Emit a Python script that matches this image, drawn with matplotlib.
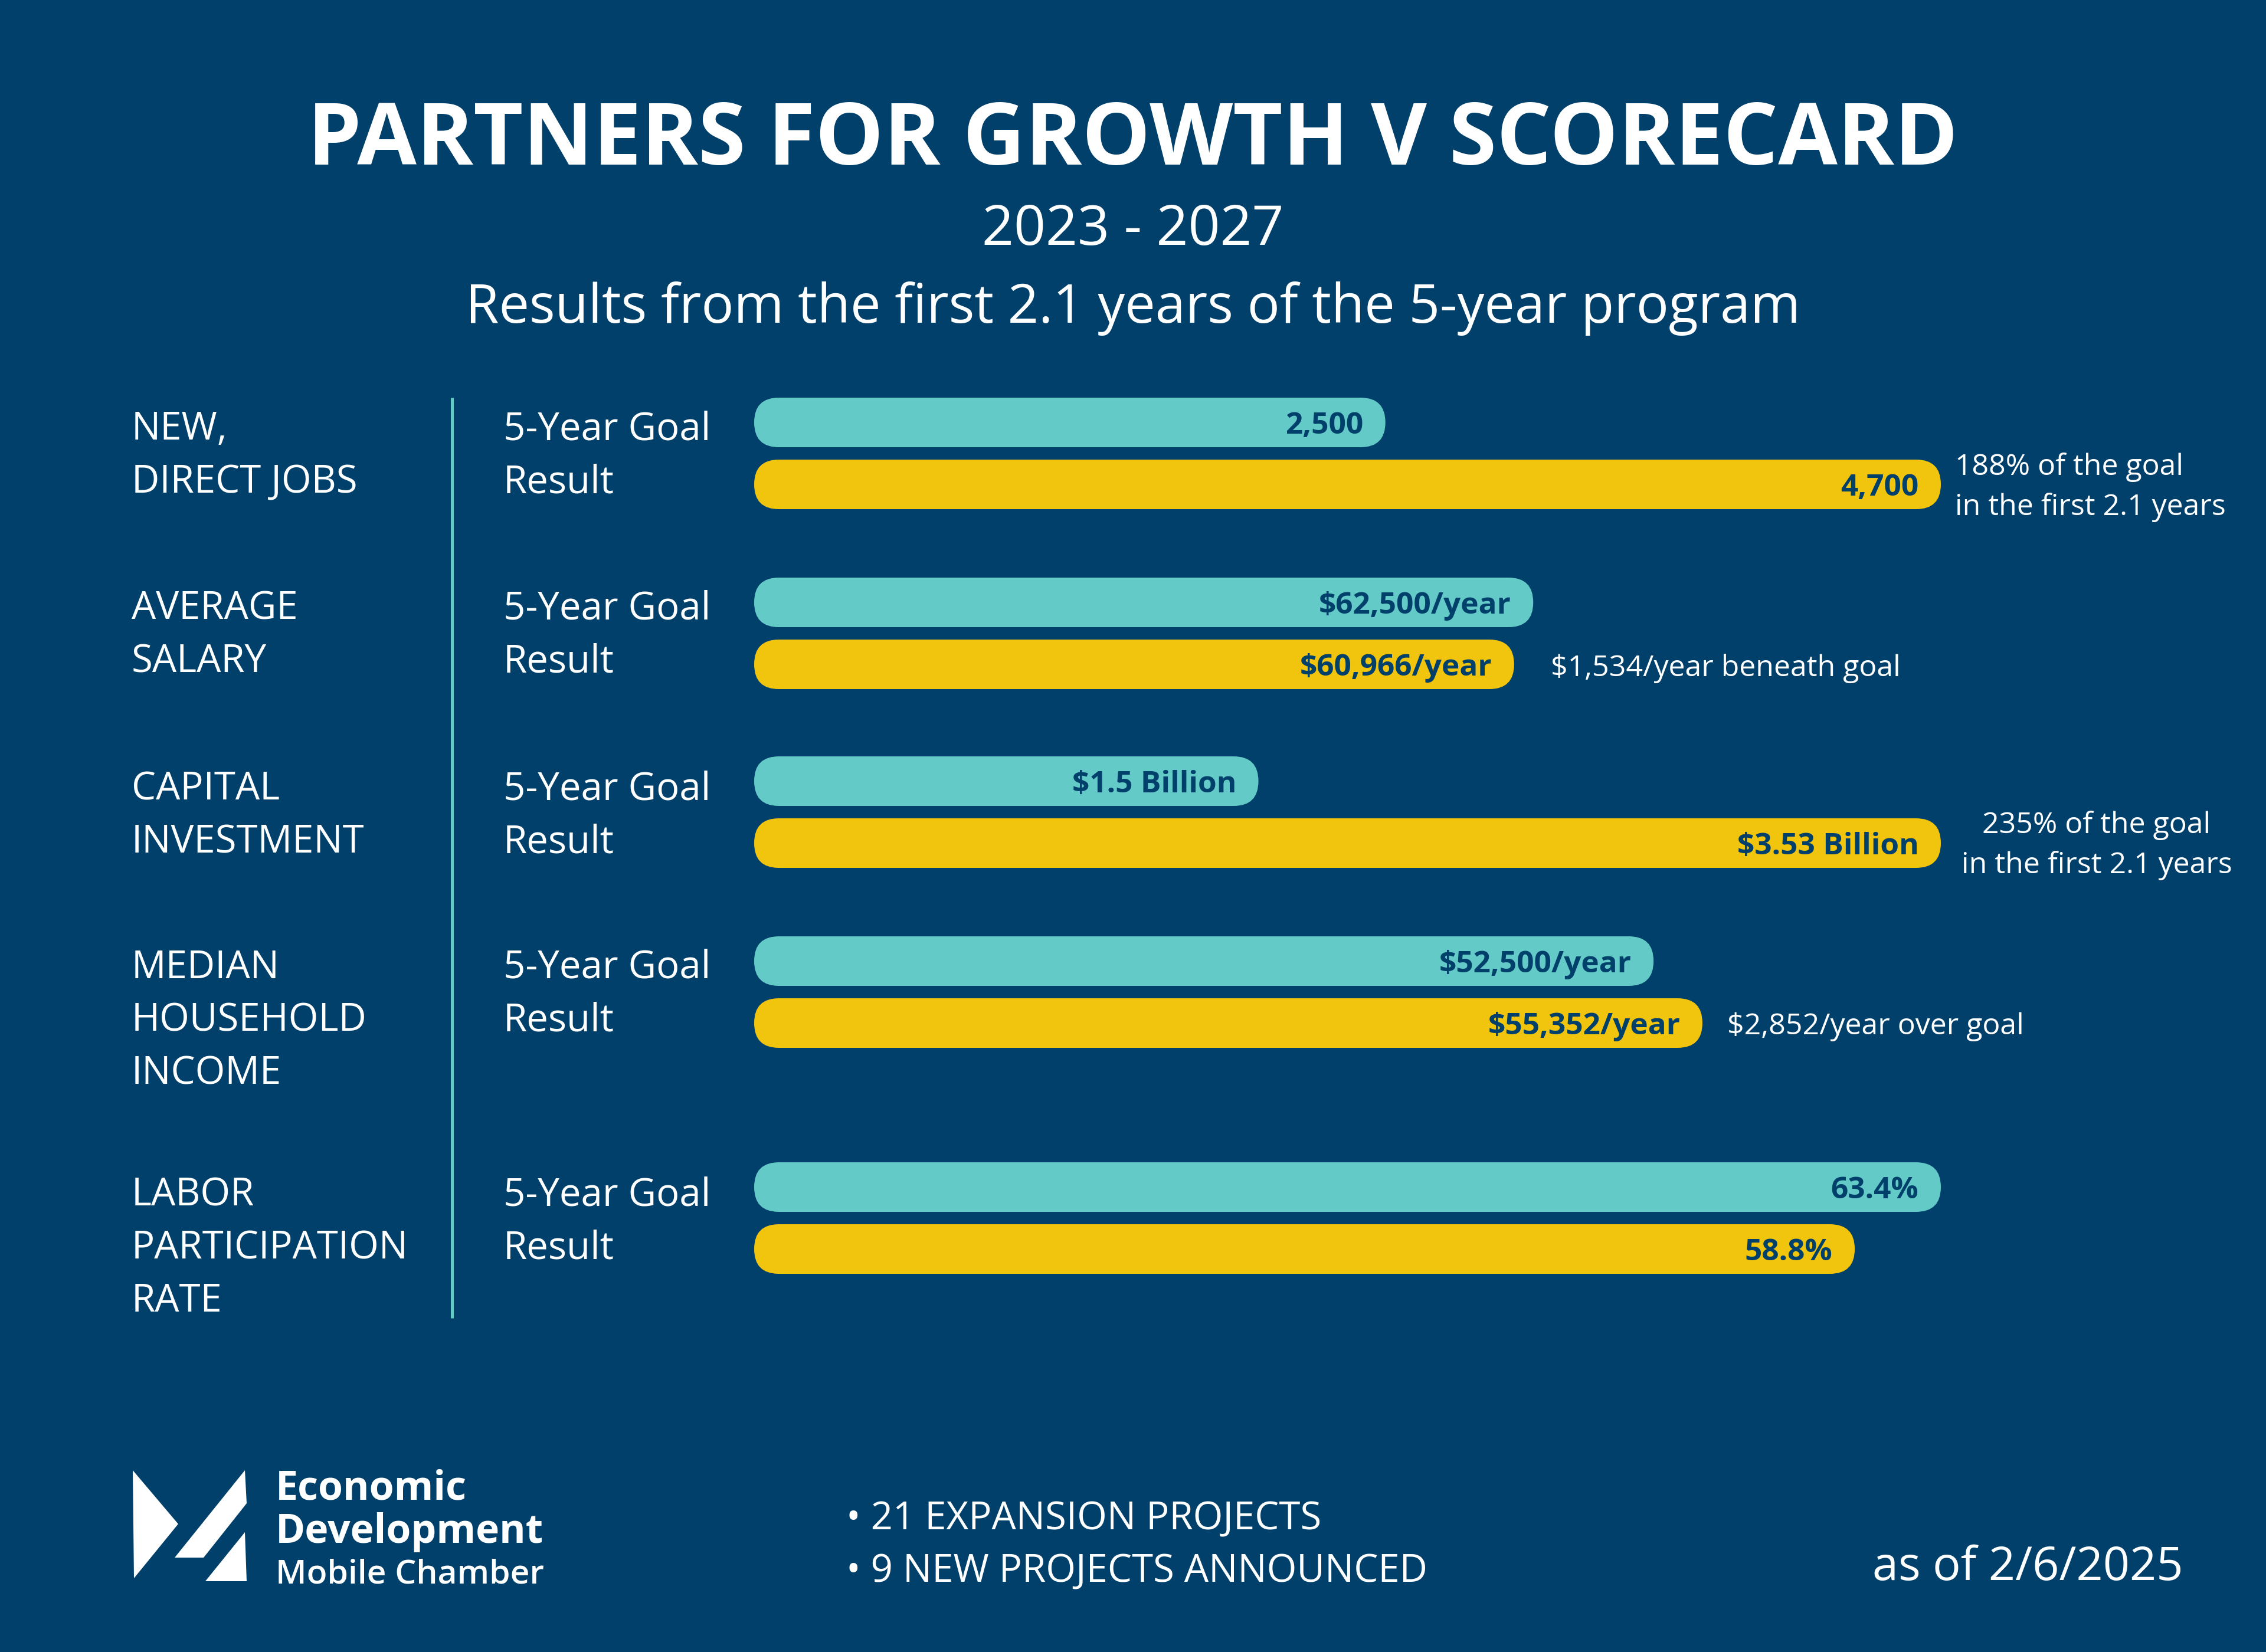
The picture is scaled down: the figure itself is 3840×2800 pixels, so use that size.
import matplotlib
matplotlib.use('Agg')
import matplotlib.pyplot as plt
from matplotlib.patches import FancyBboxPatch, Polygon
from matplotlib.patches import BoxStyle

plt.rcParams['font.family'] = ['Open Sans', 'DejaVu Sans']

BG = '#00406B'
TEAL = '#63CAC7'
GOLD = '#F1C40E'
WHITE = '#FFFFFF'

# --- data ---
categories = ['NEW,\nDIRECT JOBS', 'AVERAGE\nSALARY', 'CAPITAL\nINVESTMENT',
              'MEDIAN\nHOUSEHOLD\nINCOME', 'LABOR\nPARTICIPATION\nRATE']
series_names = ['5-Year Goal', 'Result']
goal_values = [2500, 62500, 1.5, 52500, 63.4]
result_values = [4700, 60966, 3.53, 55352, 58.8]
goal_labels = ['2,500', '$62,500/year', '$1.5 Billion', '$52,500/year', '63.4%']
result_labels = ['4,700', '$60,966/year', '$3.53 Billion', '$55,352/year', '58.8%']
notes = ['188% of the goal\nin the first 2.1 years', '$1,534/year beneath goal',
         '235% of the goal\nin the first 2.1 years', '$2,852/year over goal', '']
# each metric has its own scale
axis_max = [4700, 95200, 3.53, 69270, 63.4]
bullets = ['21 EXPANSION PROJECTS', '9 NEW PROJECTS ANNOUNCED']

# --- layout (pixels, figure is 3840 x 2800) ---
W, H = 3840, 2800
bar_left, bar_width = 1278, 2011
bar_h_px = 84
row_step = 105
goal_centers = [716, 1021, 1324, 1629, 2012]
label_rows = [720, 1024, 1330, 1633, 2018]
line_step = 90
note_pos = [(3313, 786, 'left'), (2628, 1127, 'left'), (3553, 1393, 'center'),
            (2927, 1734, 'left'), None]

fig = plt.figure(figsize=(W / 100, H / 100), dpi=100, facecolor=BG)

# overlay in pixel coordinates for text and decorations
ov = fig.add_axes([0, 0, 1, 1])
ov.set_xlim(0, W)
ov.set_ylim(H, 0)
ov.axis('off')

ov.text(1920, 223, 'PARTNERS FOR GROWTH V SCORECARD', color=WHITE, fontsize=105,
        fontweight='bold', ha='center', va='center_baseline')
ov.text(1920, 379, '2023 - 2027', color=WHITE, fontsize=68, fontweight='medium',
        ha='center', va='center_baseline')
ov.text(1920, 512, 'Results from the first 2.1 years of the 5-year program', color=WHITE,
        fontsize=66, fontweight='medium', ha='center', va='center_baseline')

# divider line
ov.plot([766, 766], [674, 2234], color=TEAL, lw=3.6, solid_capstyle='butt')

for i, cat in enumerate(categories):
    for k, line in enumerate(cat.split('\n')):
        ov.text(223, label_rows[i] + k * line_step, line, color=WHITE, fontsize=47,
                fontweight='medium', ha='left', va='center_baseline')
    for k, name in enumerate(series_names):
        ov.text(853, label_rows[i] + k * line_step, name, color=WHITE, fontsize=47,
                fontweight='medium', ha='left', va='center_baseline')
    if note_pos[i]:
        nx, ny, ha = note_pos[i]
        for k, line in enumerate(notes[i].split('\n')):
            ov.text(nx, ny + k * 68, line, color=WHITE, fontsize=36,
                    ha=ha, va='center_baseline')

# bars, one axes per metric
for i in range(len(categories)):
    top = goal_centers[i] - row_step / 2
    ax_h = 2 * row_step
    ax = fig.add_axes([bar_left / W, 1 - (top + ax_h) / H, bar_width / W, ax_h / H])
    ax.set_xlim(0, axis_max[i])
    ax.set_ylim(1.5, -0.5)
    ax.axis('off')
    px_x = bar_width / axis_max[i]
    px_y = row_step
    h = bar_h_px / px_y
    rs = (bar_h_px / 2) / px_x
    aspect = px_x / px_y
    vals = [goal_values[i], result_values[i]]
    labs = [goal_labels[i], result_labels[i]]
    for row, (v, lab, col) in enumerate(zip(vals, labs, [TEAL, GOLD])):
        ax.add_patch(FancyBboxPatch((0, row - h / 2), v, h,
                                    boxstyle=BoxStyle.Round(pad=0, rounding_size=rs),
                                    mutation_aspect=aspect, fc=col, ec='none',
                                    clip_on=False))
        ax.annotate(lab, xy=(v, row), xytext=(-27, 0), textcoords='offset points',
                    ha='right', va='center_baseline', fontsize=37,
                    fontweight='bold', color=BG)

# logo
logo_shapes = [
    [(225, 2492), (302, 2583), (227, 2675)],
    [(415, 2492), (418, 2548), (345, 2640), (296, 2640)],
    [(415, 2597), (418, 2680), (348, 2680)],
]
for pts in logo_shapes:
    ov.add_patch(Polygon(pts, closed=True, fc=WHITE, ec='none'))
ov.text(467, 2516, 'Economic', color=WHITE, fontsize=49, fontweight='bold',
        ha='left', va='center_baseline')
ov.text(467, 2589, 'Development', color=WHITE, fontsize=49, fontweight='bold',
        ha='left', va='center_baseline')
ov.text(467, 2662, 'Mobile Chamber', color=WHITE, fontsize=41, fontweight='semibold',
        ha='left', va='center_baseline')

# footer
for k, b in enumerate(bullets):
    ov.text(1434, 2567 + k * 89, '\u2022 ' + b, color=WHITE, fontsize=47,
            fontweight='medium', ha='left', va='center_baseline')
ov.text(3700, 2648, 'as of 2/6/2025', color=WHITE, fontsize=57, fontweight='medium',
        ha='right', va='center_baseline')

fig.savefig('out.png', dpi=100, facecolor=BG)
